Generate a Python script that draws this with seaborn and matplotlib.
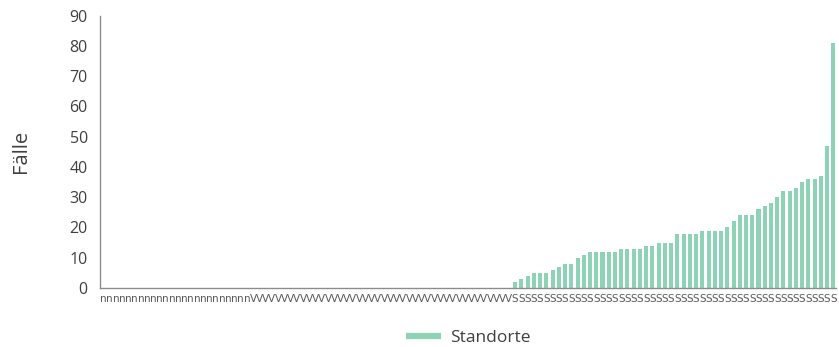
import matplotlib
matplotlib.use("Agg")
import matplotlib.pyplot as plt
from matplotlib.lines import Line2D
import seaborn as sns
import pandas as pd
import numpy as np

# --- data ---
labels_n = ["n"] * 24
labels_v = ["V"] * 42
labels_s = ["S"] * 52
tick_labels = labels_n + labels_v + labels_s
values_n = [0] * 24
values_v = [0] * 42
values_s = [2, 3, 4, 5, 5, 5, 6, 7, 8, 8, 10, 11, 12, 12, 12, 12, 12, 13, 13, 13,
            13, 14, 14, 15, 15, 15, 18, 18, 18, 18, 19, 19, 19, 19, 20, 22, 24, 24,
            24, 26, 27, 28, 30, 32, 32, 33, 35, 36, 36, 37, 47, 81]
values = values_n + values_v + values_s
series_name = "Standorte"

df = pd.DataFrame({"pos": [str(i) for i in range(len(values))], "Fälle": values})

sns.set_theme(style="white")
plt.rcParams["font.family"] = ["Open Sans", "DejaVu Sans"]

bar_color = "#8fd3b6"
fig, ax = plt.subplots(figsize=(8.39, 3.47), dpi=100)
fig.subplots_adjust(left=0.1195, right=0.997, top=0.955, bottom=0.17)

sns.barplot(data=df, x="pos", y="Fälle", color=bar_color, width=0.65,
            saturation=1, linewidth=0, ax=ax)

ax.set_xlim(-0.5, len(values) - 0.5)
ax.set_ylim(0, 90)
ax.set_yticks(range(0, 91, 10))
ax.tick_params(axis="y", labelsize=11.5, labelcolor="#404040", length=0, pad=9)
ax.set_xticks(range(len(values)))
ax.set_xticklabels(tick_labels, fontsize=7.5, color="#595959")
ax.tick_params(axis="x", length=0, pad=4)
for lbl in ax.get_xticklabels():
    lbl.set_fontfamily(["DejaVu Sans Condensed", "DejaVu Sans"])

ax.set_xlabel("")
ax.set_ylabel("Fälle", fontsize=14.5, color="#404040", labelpad=28)

for side in ["top", "right"]:
    ax.spines[side].set_visible(False)
for side in ["left", "bottom"]:
    ax.spines[side].set_color("#8c8c8c")
    ax.spines[side].set_linewidth(1.0)

handle = Line2D([0], [0], color=bar_color, linewidth=4.5, solid_capstyle="butt")
ax.legend([handle], [series_name], loc="center", bbox_to_anchor=(0.5, -0.185),
          frameon=False, fontsize=12.5, handlelength=2.0, handletextpad=0.5,
          labelcolor="#404040")

fig.savefig("out.png", dpi=100)
